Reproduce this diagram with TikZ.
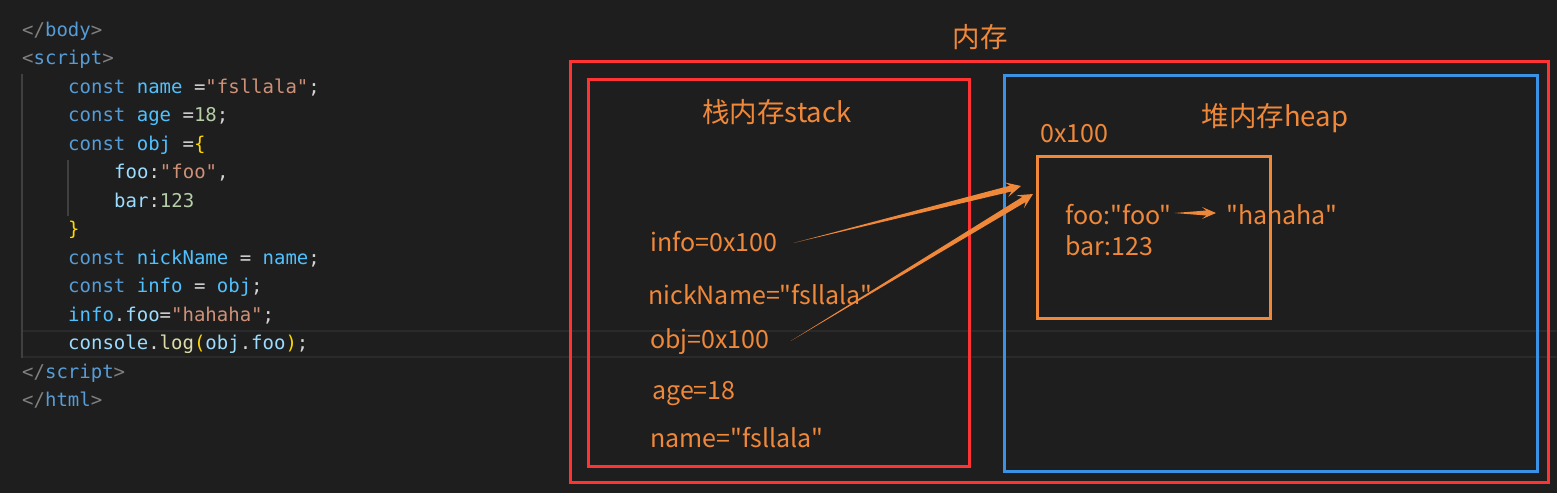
\documentclass[tikz,border=0pt]{standalone}
\usepackage{fontspec}
\setmonofont{DejaVu Sans Mono}
\newfontfamily\cjk{Noto Sans CJK SC}
\usetikzlibrary{calc, positioning}

\definecolor{bgdark}{RGB}{30,30,30}
\definecolor{hlline}{RGB}{42,42,42}
\definecolor{guide}{RGB}{64,64,64}
\definecolor{cTag}{RGB}{128,128,128}
\definecolor{cKw}{RGB}{86,156,214}
\definecolor{cVar}{RGB}{79,193,255}
\definecolor{cProp}{RGB}{156,220,254}
\definecolor{cStr}{RGB}{206,145,120}
\definecolor{cNum}{RGB}{181,206,168}
\definecolor{cPunct}{RGB}{212,212,212}
\definecolor{cBr}{RGB}{255,215,0}
\definecolor{cFn}{RGB}{220,220,170}
\definecolor{boxred}{RGB}{255,51,51}
\definecolor{boxblue}{RGB}{58,146,230}
\definecolor{memo}{RGB}{240,136,58}

% tapered arrow: from, to, shaft half width, head length, head half width
\newcommand{\taperarrow}[5]{%
  \path (#2) coordinate (tip)
        ($(#2)!#4!(#1)$) coordinate (hb)
        ($(#2)!0.7*#4!(#1)$) coordinate (hn);
  \fill[memo] (#1) -- ($(hn)!#3!90:(tip)$) -- ($(hb)!#5!90:(tip)$) -- (tip)
    -- ($(hb)!#5!-90:(tip)$) -- ($(hn)!#3!-90:(tip)$) -- cycle;
}

\tikzset{
  code/.style={anchor=base west, inner sep=0pt, text=cPunct,
    font=\ttfamily\fontsize{19}{23}\selectfont},
  lbl/.style={anchor=west, inner sep=0pt, text=memo,
    font=\cjk\fontsize{25}{30}\selectfont},
  ttl/.style={inner sep=0pt, text=memo,
    font=\cjk\fontsize{27.5}{30}\selectfont},
  redbox/.style={draw=boxred, line width=3pt},
  bluebox/.style={draw=boxblue, line width=3pt},
}

\begin{document}
\begin{tikzpicture}[x=1pt, y=-1pt]
  \fill[bgdark] (0,0) rectangle (1557,493);
  \useasboundingbox (0,0) rectangle (1557,493);

  % editor
  \draw[hlline, line width=2pt] (23,331) -- (1557,331) (23,357) -- (1557,357);
  \draw[guide, line width=1.5pt] (22,74) -- (22,358) (68,160) -- (68,216);

  \node[code] (l1) at (22,36) {\textcolor{cTag}{</}\textcolor{cKw}{body}\textcolor{cTag}{>}};
  \node[code] (l2) at (22,64.5) {\textcolor{cTag}{<}\textcolor{cKw}{script}\textcolor{cTag}{>}};
  \node[code] (l3) at (68,93) {\textcolor{cKw}{const} \textcolor{cVar}{name} =\textcolor{cStr}{"fsllala"};};
  \node[code] (l4) at (68,121.5) {\textcolor{cKw}{const} \textcolor{cVar}{age} =\textcolor{cNum}{18};};
  \node[code] (l5) at (68,150) {\textcolor{cKw}{const} \textcolor{cVar}{obj} =\textcolor{cBr}{\{}};
  \node[code] (l6) at (114,178.5) {\textcolor{cProp}{foo}:\textcolor{cStr}{"foo"},};
  \node[code] (l7) at (114,207) {\textcolor{cProp}{bar}:\textcolor{cNum}{123}};
  \node[code] (l8) at (68,235.5) {\textcolor{cBr}{\}}};
  \node[code] (l9) at (68,264) {\textcolor{cKw}{const} \textcolor{cVar}{nickName} = \textcolor{cVar}{name};};
  \node[code] (l10) at (68,292.5) {\textcolor{cKw}{const} \textcolor{cVar}{info} = \textcolor{cVar}{obj};};
  \node[code] (l11) at (68,321) {\textcolor{cVar}{info}.\textcolor{cProp}{foo}=\textcolor{cStr}{"hahaha"};};
  \node[code] (l12) at (68,349.5) {\textcolor{cProp}{console}.\textcolor{cFn}{log}\textcolor{cBr}{(}\textcolor{cProp}{obj}.\textcolor{cProp}{foo}\textcolor{cBr}{)};};
  \node[code] (l13) at (22,378) {\textcolor{cTag}{</}\textcolor{cKw}{script}\textcolor{cTag}{>}};
  \node[code] (l14) at (22,406.5) {\textcolor{cTag}{</}\textcolor{cKw}{html}\textcolor{cTag}{>}};

  % memory
  \draw[redbox] (570,61) rectangle (1548,482);
  \draw[redbox] (588,79) rectangle (969,466);
  \draw[bluebox] (1004,75) rectangle (1537,471);
  \node[draw=memo, line width=3pt, inner sep=0pt, minimum width=233pt,
    minimum height=162pt, anchor=north west] (objbox) at (1036,155) {};

  \node[ttl] (mem) at (980,37) {内存};
  \node[ttl] (stacktitle) at (777,112) {栈内存stack};
  \node[ttl] (heaptitle) at (1275,118) {堆内存heap};

  \node[lbl] (info) at (650,242) {info=0x100};
  \node[lbl] (nick) at (648,295) {nickName="fsllala"};
  \node[lbl] (objv) at (650,342) {obj=0x100};
  \node[lbl] (age) at (652,394) {age=18};
  \node[lbl] (name) at (650,438) {name="fsllala"};

  \node[lbl] (addr) at (1040,134) {0x100};
  \node[lbl] (foo) at (1065,215) {foo:"foo"};
  \node[lbl] (bar) at (1065,246) {bar:123};
  \node[lbl] (haha) at (1226,215) {"hahaha"};

  \coordinate (infoout) at ($(info.east)+(16,1)$);
  \coordinate (infoin) at ($(objbox.north west)+(-15,31)$);
  \coordinate (objout) at ($(objv.east)+(21,-1)$);
  \coordinate (objin) at ($(objbox.north west)+(-3,39)$);
  \coordinate (fooout) at ($(foo.east)+(3,-2)$);
  \coordinate (hahain) at ($(haha.west)+(-10,-2)$);

  \taperarrow{infoout}{infoin}{3pt}{15pt}{7.5pt}
  \taperarrow{objout}{objin}{3pt}{15pt}{7.5pt}
  \taperarrow{fooout}{hahain}{2.5pt}{14pt}{6pt}
\end{tikzpicture}
\end{document}
